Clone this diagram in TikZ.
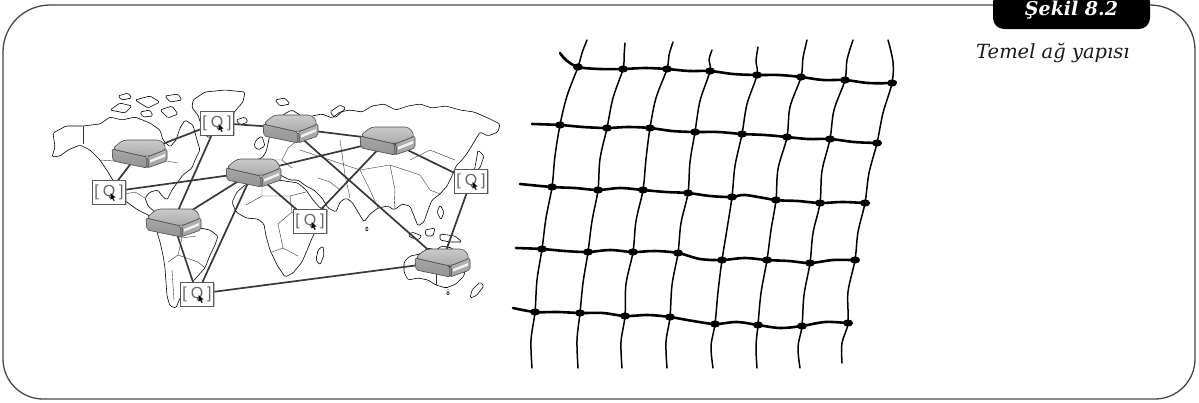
\documentclass[tikz,border=0pt]{standalone}
\usepackage{fontspec}
\setmainfont{DejaVu Serif}
\newfontfamily\qfont{Liberation Sans}
\usetikzlibrary{shadows}
\pgfdeclarelayer{under}
\pgfsetlayers{under,main}

\begin{document}
\begin{tikzpicture}[x=1pt,y=-1pt,
  frameline/.style={draw=black!72, line width=1.3pt},
  tabbox/.style={fill=black, rounded corners=11pt, minimum width=157pt,
    minimum height=38pt, inner sep=0pt, text=white,
    font=\fontsize{19}{20}\selectfont\bfseries\itshape},
  captiontext/.style={anchor=base west, inner sep=0pt,
    font=\fontsize{19.5}{21}\selectfont\itshape, text=black!90},
  coast/.style={draw=black, line width=0.6pt, line join=round},
  border/.style={draw=black!80, line width=0.4pt, line join=round},
  link/.style={draw=black!78, line width=1.7pt},
  rline/.style={draw=black!70, line width=0.6pt, line join=round},
  router/.style={shape=rectangle, minimum width=60pt, minimum height=34pt,
    inner sep=0pt,
    path picture={
      \begin{scope}[shift={(path picture bounding box.center)}]
        % left side face
        \draw[rline, top color=gray!70, bottom color=gray!84, rounded corners=2pt]
          (-27,-4) -- (8,4) -- (8,15) -- (-26,8) -- cycle;
        % front face with its light slot
        \draw[rline, top color=gray!58, bottom color=gray!74, rounded corners=2pt]
          (8,4) -- (28,-4) -- (28,8) -- (8,15) -- cycle;
        \fill[gray!10] (11,7) -- (26,1) -- (26,3.6) -- (11,9.6) -- cycle;
        \fill[black!60] (8.6,6) rectangle (10.1,14);
        % top face
        \draw[rline, top color=gray!42, bottom color=gray!66, rounded corners=4pt]
          (-27,-4) -- (-16,-13) -- (22,-13) -- (28,-4) -- (8,4) -- cycle;
        \draw[gray!55, line width=0.4pt] (1,-4.5) circle [x radius=5pt, y radius=2.5pt];
      \end{scope}}},
  qbox/.style={shape=rectangle, draw=black!65, line width=0.9pt, fill=white,
    minimum width=33pt, minimum height=24pt, inner sep=0pt,
    text=black!60, font=\qfont\fontsize{16}{16}\selectfont,
    drop shadow={shadow xshift=1.3pt, shadow yshift=-1.3pt, fill=black!50}},
  cursor/.style={fill=black},
  thread/.style={draw=black, line width=2.6pt, line cap=round, line join=round},
  strand/.style={draw=black, line width=1.5pt, line cap=round, line join=round},
  knot/.style={fill=black}
]
\useasboundingbox (0,0) rectangle (1199,402);

% ---------- outer frame with the figure tab ----------
\draw[frameline] (993,5) -- (50,5) .. controls (24,5) and (3,26) .. (3,52)
  -- (3,359) .. controls (3,381) and (21,399) .. (43,399)
  -- (1155,399) .. controls (1177,399) and (1195,381) .. (1195,359)
  -- (1195,50) .. controls (1195,25) and (1175,5) .. (1150,5);
\node[tabbox] (tab) at (1071.5,10) {Şekil 8.2};
\node[captiontext] (caption) at (976,58) {Temel ağ yapısı};

% ---------- world map outline ----------
\begin{pgfonlayer}{under}
\begin{scope}[coast, rounded corners=1.5pt]
  % North and Central America
  \draw (52,157) -- (55,147) -- (53,133) -- (66,126) -- (83,126) -- (100,124)
    -- (110,117) -- (122,120) -- (135,117) -- (150,123) -- (160,130) -- (163,140)
    -- (170,147) -- (176,140) -- (180,128) -- (185,120) -- (193,125) -- (197,140)
    -- (200,150) -- (195,160) -- (192,168) -- (183,175) -- (177,183) -- (172,190)
    -- (167,200) -- (162,196) -- (158,190) -- (150,192) -- (145,198) -- (148,206)
    -- (155,212) -- (160,218) -- (156,220) -- (148,215) -- (138,210) -- (128,203)
    -- (120,195) -- (117,187) -- (108,172) -- (100,160) -- (90,150) -- (80,145)
    -- (68,150) -- (60,156) -- cycle;
  % Arctic islands
  \draw (110,110) -- (120,103) -- (132,106) -- (125,113) -- cycle;
  \draw (135,100) -- (150,96) -- (160,102) -- (148,108) -- cycle;
  \draw (160,110) -- (172,106) -- (178,114) -- (168,118) -- cycle;
  \draw (140,112) -- (150,110) -- (153,116) -- (143,117) -- cycle;
  \draw (165,96) -- (178,94) -- (182,100) -- (170,102) -- cycle;
  \draw (118,96) -- (128,93) -- (132,98) -- (122,100) -- cycle;
  % Greenland
  \draw (193,100) -- (205,92) -- (225,90) -- (245,92) -- (243,102) -- (236,110)
    -- (228,120) -- (220,130) -- (208,138) -- (202,128) -- (198,115) -- (192,108) -- cycle;
  % Iceland, Britain, Svalbard, Novaya Zemlya
  \draw (236,120) -- (245,117) -- (248,122) -- (240,125) -- cycle;
  \draw (256,140) -- (262,136) -- (265,146) -- (258,150) -- (254,146) -- cycle;
  \draw (275,100) -- (285,98) -- (290,104) -- (280,106) -- cycle;
  \draw (330,112) -- (340,105) -- (346,108) -- (335,118) -- cycle;
  % South America
  \draw (160,222) -- (170,218) -- (180,219) -- (190,224) -- (200,228) -- (210,230)
    -- (218,236) -- (215,245) -- (210,255) -- (205,268) -- (196,278) -- (187,288)
    -- (180,298) -- (176,308) -- (170,306) -- (167,296) -- (166,282) -- (165,268)
    -- (163,255) -- (160,242) -- (157,232) -- cycle;
  % Africa and Madagascar
  \draw (245,185) -- (237,192) -- (232,202) -- (236,212) -- (246,218) -- (258,219)
    -- (264,224) -- (266,236) -- (270,250) -- (277,265) -- (285,277) -- (293,273)
    -- (302,262) -- (308,248) -- (313,236) -- (320,224) -- (328,210) -- (320,208)
    -- (313,200) -- (306,190) -- (298,183) -- (285,181) -- (270,179) -- (258,180) -- cycle;
  \draw (318,250) -- (323,246) -- (324,255) -- (320,265) -- (316,260) -- cycle;
  % Eurasia
  \draw (252,176) -- (249,166) -- (255,160) -- (262,158) -- (266,152) -- (268,144)
    -- (270,134) -- (276,124) -- (284,114) -- (292,110) -- (300,115) -- (306,120)
    -- (312,116) -- (322,114) -- (332,118) -- (340,112) -- (350,110) -- (362,112)
    -- (372,106) -- (384,104) -- (396,110) -- (408,106) -- (420,104) -- (432,108)
    -- (446,106) -- (460,110) -- (474,112) -- (488,118) -- (500,124) -- (498,132)
    -- (488,136) -- (480,132) -- (474,142) -- (468,152) -- (462,160) -- (456,166)
    -- (452,176) -- (447,186) -- (440,194) -- (432,200) -- (428,210) -- (424,222)
    -- (418,226) -- (414,216) -- (410,206) -- (402,204) -- (394,210) -- (388,206)
    -- (378,208) -- (370,214) -- (364,222) -- (358,212) -- (352,202) -- (346,198)
    -- (340,202) -- (336,212) -- (328,208) -- (322,198) -- (314,190) -- (306,186)
    -- (298,180) -- (290,180) -- (282,176) -- (276,172) -- (268,174) -- (260,172) -- cycle;
  % Japan, Philippines, Indonesia, Sri Lanka
  \draw (478,150) -- (484,156) -- (480,168) -- (474,172) -- (476,162) -- cycle;
  \draw (440,205) -- (444,212) -- (441,220) -- (437,212) -- cycle;
  \draw (412,232) -- (422,236) -- (418,240) -- (408,236) -- cycle;
  \draw (425,230) -- (435,228) -- (433,236) -- (426,236) -- cycle;
  \draw (440,234) -- (455,236) -- (462,242) -- (450,242) -- (440,240) -- cycle;
  \draw (366,226) -- (369,229) -- (366,232) -- cycle;
  % Australia, Tasmania, New Zealand
  \draw (404,262) -- (410,256) -- (420,254) -- (428,248) -- (436,250) -- (442,246)
    -- (452,248) -- (458,256) -- (466,264) -- (464,276) -- (456,284) -- (446,288)
    -- (436,285) -- (428,280) -- (418,278) -- (408,280) -- (404,272) -- cycle;
  \draw (446,292) -- (450,292) -- (448,296) -- cycle;
  \draw (472,290) -- (480,282) -- (484,286) -- (476,296) -- (470,298) -- cycle;
\end{scope}
% national borders
\begin{scope}[border]
  \draw (83,126) -- (83,144);
  \draw (100,160) -- (130,162) -- (160,160) -- (178,163);
  \draw (120,195) -- (135,192) -- (145,198);
  \draw (172,232) -- (182,238) -- (196,236);
  \draw (182,238) -- (178,255) -- (168,262);
  \draw (178,255) -- (198,262) -- (205,268);
  \draw (172,270) -- (174,300);
  \draw (262,196) -- (290,196) -- (292,212) -- (278,224);
  \draw (290,196) -- (306,192);
  \draw (292,212) -- (310,232);
  \draw (246,205) -- (262,196) -- (262,182);
  \draw (278,224) -- (283,248) -- (298,256);
  \draw (283,248) -- (272,252);
  \draw (300,214) -- (318,218);
  \draw (262,168) -- (270,160) -- (282,160) -- (292,168);
  \draw (282,160) -- (288,148) -- (298,140);
  \draw (300,150) -- (330,160) -- (360,170) -- (390,165) -- (420,175);
  \draw (340,140) -- (345,175) -- (350,198);
  \draw (390,165) -- (395,190) -- (394,210);
  \draw (360,170) -- (370,190) -- (378,208);
  \draw (420,175) -- (430,190) -- (440,194);
  \draw (410,160) -- (430,150) -- (455,160);
  \draw (318,178) -- (330,182) -- (340,190);
  \draw (436,266) -- (436,285);
  \draw (436,266) -- (452,266);
\end{scope}
\end{pgfonlayer}

% ---------- network nodes ----------
\node[router] (r1) at (139,153) {};
\node[router] (r2) at (290,128) {};
\node[router] (r3) at (387,140) {};
\node[router] (r4) at (253,172) {};
\node[router] (r5) at (173,222) {};
\node[router] (r6) at (442,262) {};

\node[qbox] (q1) at (217,123) {[\hspace{4pt}Q\hspace{4pt}]};
\node[qbox] (q2) at (109,192) {[\hspace{4pt}Q\hspace{4pt}]};
\node[qbox] (q3) at (471,181) {[\hspace{4pt}Q\hspace{4pt}]};
\node[qbox] (q4) at (310,221) {[\hspace{4pt}Q\hspace{4pt}]};
\node[qbox] (q5) at (197,294) {[\hspace{4pt}Q\hspace{4pt}]};

% small pointer over each Q
\foreach \q in {q1,q2,q3,q4,q5}
  \fill[cursor] ([shift={(1.5,1)}]\q.center) -- ++(0,7) -- ++(1.6,-1.8)
    -- ++(1.6,2.8) -- ++(1,-0.6) -- ++(-1.5,-2.6) -- ++(2.3,-0.3) -- cycle;

% ---------- links between the nodes ----------
\begin{pgfonlayer}{under}
\foreach \a/\b in {r1/q1, q1/r2, q1/r5, r1/q2, q2/r4, r4/r5, r4/q5, r5/q5,
                   q5/r6, r4/q4, r4/r3, r2/r3, r2/r6, r3/q4, r3/q3, q3/r6}
  \draw[link] (\a.center) -- (\b.center);
\end{pgfonlayer}

% ---------- knotted net ----------
% horizontal threads
\draw[thread] plot[smooth, tension=0.55] coordinates {(560,53) (566,60) (578,67)
  (600,69) (623,69) (645,68) (667,69) (689,71) (710,71) (733,74) (757,75) (779,75)
  (801,77) (823,80) (845,80) (868,83) (892,83) (896,82)};
\draw[thread] plot[smooth, tension=0.55] coordinates {(532,124) (560,125) (583,127)
  (607,128) (628,127) (650,128) (672,131) (695,132) (718,132) (742,134) (765,135)
  (787,137) (808,139) (830,139) (854,142) (877,143) (881,143)};
\draw[thread] plot[smooth, tension=0.55] coordinates {(520,184) (552,187) (575,188)
  (598,190) (620,188) (643,190) (666,192) (688,193) (710,196) (732,197) (745,195)
  (776,200) (798,201) (820,203) (842,202) (865,203) (869,203)};
\draw[thread] plot[smooth, tension=0.55] coordinates {(516,248) (542,249) (565,251)
  (588,252) (610,250) (633,252) (655,251) (678,253) (700,259) (722,260) (745,258)
  (767,260) (789,261) (810,263) (833,260) (855,260) (858,259)};
\draw[thread] plot[smooth, tension=0.55] coordinates {(513,308) (535,312) (558,312)
  (580,313) (603,313) (625,316) (648,315) (670,317) (693,321) (715,324) (737,322)
  (758,325) (780,328) (802,326) (825,322) (848,323) (851,323)};

% vertical strands
\draw[strand] plot[smooth, tension=0.55] coordinates {(587,40) (582,53) (578,67)
  (567,96) (560,125) (555,156) (552,187) (546,218) (542,249) (537,280) (535,312)
  (531,340) (532,368)};
\draw[strand] plot[smooth, tension=0.55] coordinates {(625,43) (624,56) (623,69)
  (613,98) (607,128) (600,159) (598,190) (592,221) (588,252) (583,283) (580,313)
  (577,340) (578,368)};
\draw[strand] plot[smooth, tension=0.55] coordinates {(673,42) (669,55) (667,69)
  (656,98) (650,128) (646,159) (643,190) (636,221) (633,252) (626,284) (625,316)
  (621,342) (622,368)};
\draw[strand] plot[smooth, tension=0.55] coordinates {(712,50) (709,60) (710,71)
  (700,101) (695,132) (690,162) (688,193) (681,223) (678,253) (672,285) (670,317)
  (666,342) (667,368)};
\draw[strand] plot[smooth, tension=0.55] coordinates {(758,47) (756,61) (757,75)
  (747,104) (742,134) (735,166) (732,197) (727,229) (722,260) (718,292) (715,324)
  (711,346) (713,368)};
\draw[strand] plot[smooth, tension=0.55] coordinates {(807,40) (803,58) (801,77)
  (790,107) (787,137) (778,169) (776,200) (771,230) (767,260) (761,293) (758,325)
  (756,346) (757,368)};
\draw[strand] plot[smooth, tension=0.55] coordinates {(853,40) (847,60) (845,80)
  (834,110) (830,139) (822,171) (820,203) (813,233) (810,263) (804,295) (802,326)
  (798,347) (800,368)};
\draw[strand] plot[smooth, tension=0.55] coordinates {(888,40) (893,62) (892,83)
  (883,113) (877,143) (869,173) (865,203) (858,232) (855,260) (848,292) (848,323)
  (842,343) (842,363)};

% knots where the threads cross
\foreach \p in {(578,67),(623,69),(667,69),(710,71),(757,75),(801,77),(845,80),(892,83),
  (560,125),(607,128),(650,128),(695,132),(742,134),(787,137),(830,139),(877,143),
  (552,187),(598,190),(643,190),(688,193),(732,197),(776,200),(820,203),(865,203),
  (542,249),(588,252),(633,252),(678,253),(722,260),(767,260),(810,263),(855,260),
  (535,312),(580,313),(625,316),(670,317),(715,324),(758,325),(802,326),(848,323)}
  \fill[knot] \p ellipse [x radius=5pt, y radius=3.6pt];
\end{tikzpicture}
\end{document}
